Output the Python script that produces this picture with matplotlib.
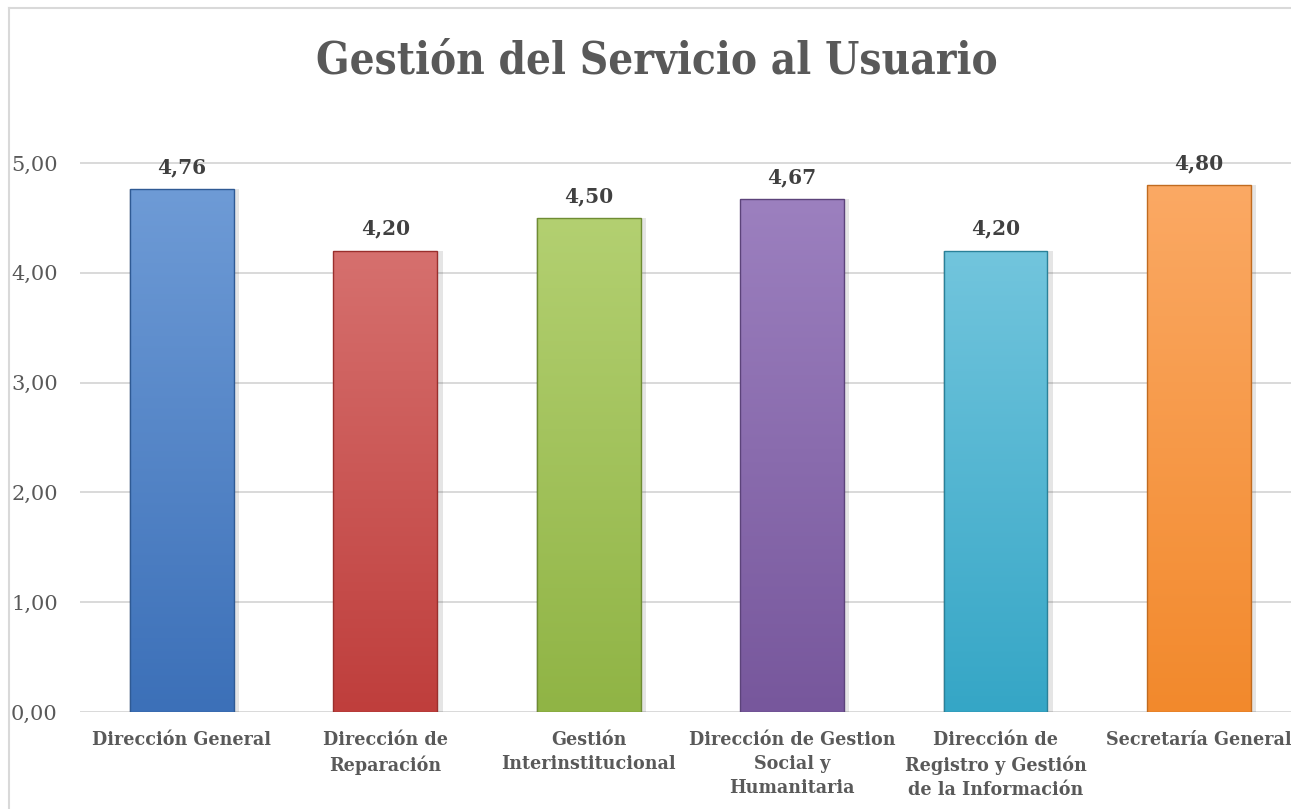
import numpy as np
import matplotlib
matplotlib.use("Agg")
import matplotlib.pyplot as plt
import matplotlib.colors as mcolors
from matplotlib.lines import Line2D

categories = [
    "Dirección General",
    "Dirección de\nReparación",
    "Gestión\nInterinstitucional",
    "Dirección de Gestion\nSocial y\nHumanitaria",
    "Dirección de\nRegistro y Gestión\nde la Información",
    "Secretaría General",
]
values = [4.76, 4.20, 4.50, 4.67, 4.20, 4.80]
value_labels = ["4,76", "4,20", "4,50", "4,67", "4,20", "4,80"]
yticks = [0, 1, 2, 3, 4, 5]
ytick_labels = ["0,00", "1,00", "2,00", "3,00", "4,00", "5,00"]
title = "Gestión del Servicio al Usuario"

top_colors = ["#6E9BD6", "#D6706E", "#B3D071", "#9C80BF", "#72C5DD", "#FBA964"]
bottom_colors = ["#3C70B8", "#BF3E3C", "#90B445", "#77579C", "#35A6C6", "#F2892C"]
edge_colors = ["#2F5A94", "#9A2F2D", "#6F8C33", "#5C437A", "#2A8199", "#C06B20"]

W, H = 1291, 809
fig = plt.figure(figsize=(W / 100, H / 100), dpi=100)
fig.patch.set_facecolor("white")

# chart-area border (left and top edges visible)
fig.add_artist(Line2D([9 / W, 9 / W], [0, 1 - 8 / H], transform=fig.transFigure,
                      color="#D9D9D9", lw=1.5))
fig.add_artist(Line2D([9 / W, 1.01], [1 - 8 / H, 1 - 8 / H], transform=fig.transFigure,
                      color="#D9D9D9", lw=1.5))

ax = fig.add_axes([80 / W, 97 / H, 1220.75 / W, 582 / H])
ax.set_facecolor("none")
x = np.arange(len(values))

# soft shadows
ax.bar(x + 0.012, values, width=0.54, color="#000000", alpha=0.10, zorder=2)
bars = ax.bar(x, values, width=0.51, color="none", zorder=4)
grad = np.linspace(0, 1, 256).reshape(-1, 1)
for b, ct, cb, ce in zip(bars, top_colors, bottom_colors, edge_colors):
    cmap = mcolors.LinearSegmentedColormap.from_list("g", [cb, ct])
    im = ax.imshow(grad, cmap=cmap, origin="lower", aspect="auto",
                   extent=[b.get_x(), b.get_x() + b.get_width(), 0, b.get_height()], zorder=3)
    im.set_clip_path(b)
    b.set_edgecolor(ce)
    b.set_linewidth(1.0)

for xi, v, lab in zip(x, values, value_labels):
    ax.text(xi, v + 0.2, lab, ha="center", va="center", fontsize=14.5, fontweight="bold",
            color="#404040", family="DejaVu Serif")

ax.set_xlim(-0.5, 5.5)
ax.set_ylim(0, 5.3)
ax.set_yticks(yticks)
ax.set_yticklabels(ytick_labels, fontsize=15, color="#595959", family="DejaVu Serif")
ax.set_xticks(x)
ax.set_xticklabels(categories, fontsize=14, fontweight="bold", color="#595959",
                   family="DejaVu Serif", linespacing=1.4, fontstretch="condensed")
ax.tick_params(axis="both", length=0)
ax.tick_params(axis="y", pad=16)
ax.tick_params(axis="x", pad=14)
ax.yaxis.grid(True, color="#D9D9D9", lw=1.4)
ax.set_axisbelow(True)
for s in ax.spines.values():
    s.set_visible(False)

fig.text(657 / W, 1 - 74 / H, title, ha="center", va="baseline", fontsize=31.5,
         fontweight="bold", color="#595959", family="DejaVu Serif", fontstretch="condensed")

fig.savefig("out.png", dpi=100)
